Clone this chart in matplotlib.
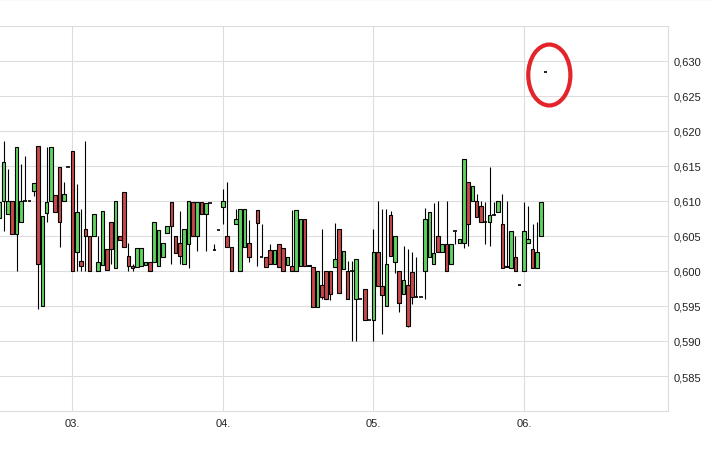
import matplotlib
matplotlib.use("Agg")
import matplotlib.pyplot as plt
from matplotlib.patches import Ellipse
from matplotlib.lines import Line2D
from matplotlib.ticker import FuncFormatter

# ---- data (15-min style slots, one list per field) ----
slot = [0,1,2,3,4,5,6,7,8,9,10,11,12,13,14,15,16,17,18,19,20,21,22,23,24,25,26,27,28,29,
        30,31,32,33,34,35,36,37,38,39,40,41,42,43,44,45,46,47,48,49,50,51,52,53,54,55,56,57,58,
        60,61,62,63,64,65,66,67,68,69,70,71,72,73,74,75,76,77,78,79,80,81,82,83,84,85,86,87,88,89,
        90,91,92,93,94,95,96,97,98,99,100,101,102,103,104,105,106,107,108,109,110,111,112,113,114,
        115,116,117,118,119,120,121,122,123,124,125,126,127]
open_ = [0.6076,0.6100,0.6081,0.6100,0.6053,0.6070,0.6100,0.6100,0.6114,0.6179,0.5950,0.6083,0.6100,0.6109,0.6149,
         0.6100,0.6149,0.6171,0.6027,0.6014,0.6060,0.6050,0.6050,0.6000,0.6009,0.6031,0.6070,0.6004,0.6050,0.6113,
         0.6021,0.6007,0.6006,0.6007,0.6009,0.6013,0.6013,0.6007,0.6020,0.6054,0.6099,0.6050,0.6040,0.6010,0.6039,
         0.6099,0.6050,0.6099,0.6081,0.6097,0.6030,0.6059,0.6091,0.6050,0.6034,0.6067,0.6000,0.6034,0.6040,
         0.6087,0.6020,0.6020,0.6030,0.6010,0.6039,0.6033,0.6009,0.6007,0.6000,0.6007,0.6074,0.6009,0.6006,0.5949,
         0.5980,0.6000,0.6000,0.6006,0.6060,0.6003,0.6000,0.6000,0.5960,0.5960,0.5974,0.5930,0.5930,0.6027,0.5979,
         0.5950,0.6080,0.6013,0.6000,0.5967,0.5980,0.5999,0.5963,0.5963,0.6000,0.6020,0.6010,0.6050,0.6027,0.6039,
         0.6010,0.6057,0.6040,0.6040,0.6127,0.6100,0.6100,0.6093,0.6070,0.6070,0.6080,0.6084,0.6067,0.6007,0.6004,
         0.6020,0.5980,0.6000,0.6040,0.6031,0.6004,0.6050,0.6285]
high = [0.6099,0.6186,0.6146,0.6100,0.6177,0.6153,0.6164,0.6100,0.6126,0.6179,0.6079,0.6177,0.6177,0.6109,0.6149,
        0.6127,0.6149,0.6171,0.6124,0.6089,0.6186,0.6050,0.6081,0.6050,0.6086,0.6031,0.6070,0.6100,0.6050,0.6113,
        0.6040,0.6010,0.6033,0.6033,0.6013,0.6013,0.6070,0.6059,0.6040,0.6064,0.6099,0.6050,0.6086,0.6060,0.6100,
        0.6099,0.6099,0.6099,0.6097,0.6097,0.6039,0.6059,0.6117,0.6127,0.6034,0.6089,0.6089,0.6089,0.6073,
        0.6087,0.6067,0.6020,0.6039,0.6030,0.6039,0.6033,0.6020,0.6087,0.6087,0.6074,0.6074,0.6009,0.6006,0.6000,
        0.6060,0.6000,0.6000,0.6069,0.6060,0.6029,0.6014,0.6014,0.6017,0.5960,0.5974,0.5930,0.6060,0.6100,0.6089,
        0.6089,0.6086,0.6050,0.6000,0.6036,0.6031,0.6027,0.6020,0.5963,0.6090,0.6084,0.6097,0.6100,0.6039,0.6100,
        0.6039,0.6057,0.6046,0.6160,0.6127,0.6121,0.6110,0.6100,0.6099,0.6149,0.6099,0.6100,0.6110,0.6100,0.6057,
        0.6050,0.5980,0.6099,0.6093,0.6067,0.6070,0.6099,0.6285]
low = [0.6076,0.6057,0.6081,0.6053,0.6000,0.6070,0.6100,0.6100,0.6107,0.5946,0.5950,0.6070,0.6100,0.6084,0.6034,
       0.6100,0.6149,0.6000,0.6000,0.6000,0.6000,0.6000,0.6050,0.6000,0.6009,0.6001,0.6010,0.6004,0.6044,0.6034,
       0.6000,0.6000,0.6006,0.6007,0.6009,0.6000,0.6013,0.6007,0.6020,0.6054,0.6010,0.6026,0.6010,0.6010,0.6004,
       0.6050,0.6029,0.6081,0.6029,0.6097,0.6030,0.6059,0.6067,0.6034,0.6000,0.6067,0.6000,0.6034,0.6013,
       0.6007,0.6020,0.6006,0.6010,0.6010,0.6006,0.6000,0.6009,0.6000,0.6000,0.6007,0.6007,0.6007,0.5949,0.5949,
       0.5960,0.5960,0.5959,0.6006,0.5969,0.6003,0.5960,0.5900,0.5900,0.5960,0.5930,0.5930,0.5900,0.5979,0.5910,
       0.5950,0.6021,0.5997,0.5941,0.5967,0.5920,0.5953,0.5963,0.5963,0.5960,0.6020,0.6010,0.6027,0.6027,0.6000,
       0.6010,0.6039,0.6040,0.6033,0.6036,0.6100,0.6077,0.6070,0.6039,0.6036,0.6080,0.6084,0.6004,0.6006,0.6004,
       0.6000,0.5980,0.6000,0.6040,0.6004,0.6004,0.6050,0.6285]
close = [0.6099,0.6156,0.6100,0.6053,0.6177,0.6100,0.6100,0.6100,0.6126,0.6010,0.6079,0.6099,0.6177,0.6084,0.6070,
         0.6110,0.6149,0.6000,0.6084,0.6007,0.6050,0.6000,0.6081,0.6013,0.6086,0.6001,0.6031,0.6100,0.6044,0.6034,
         0.6007,0.6004,0.6033,0.6033,0.6013,0.6000,0.6070,0.6059,0.6040,0.6064,0.6064,0.6026,0.6021,0.6060,0.6100,
         0.6050,0.6099,0.6081,0.6097,0.6097,0.6030,0.6059,0.6100,0.6034,0.6000,0.6074,0.6089,0.6089,0.6020,
         0.6069,0.6020,0.6006,0.6010,0.6030,0.6006,0.6000,0.6020,0.6000,0.6087,0.6074,0.6007,0.6007,0.5949,0.6000,
         0.5963,0.5960,0.5967,0.6017,0.5969,0.6029,0.5960,0.6000,0.6017,0.5960,0.5930,0.5930,0.6027,0.5979,0.5966,
         0.6010,0.6021,0.6050,0.5954,0.5987,0.5921,0.5963,0.5963,0.5963,0.6074,0.6084,0.6026,0.6027,0.6039,0.6000,
         0.6039,0.6057,0.6046,0.6160,0.6067,0.6121,0.6077,0.6070,0.6070,0.6080,0.6080,0.6100,0.6004,0.6006,0.6057,
         0.6000,0.5980,0.6057,0.6046,0.6004,0.6027,0.6099,0.6285]

day_slots = [17, 52, 87, 122]
day_labels = ["03.", "04.", "05.", "06."]
y_ticks = [0.585, 0.590, 0.595, 0.600, 0.605, 0.610, 0.615, 0.620, 0.625, 0.630]

UP = "#5fd35f"
DOWN = "#c9494a"
GRID = "#dddddd"

plt.rcParams["font.family"] = ["Liberation Sans", "DejaVu Sans"]

fig = plt.figure(figsize=(7.14, 4.52), dpi=100)
fig.patch.set_facecolor("white")
ax = fig.add_axes([-0.003, 40/452, 668/714 + 0.003, (412-27)/452])

ax.set_xlim(-0.35, 155.5)
ax.set_ylim(0.580, 0.635)

# grid
for v in y_ticks:
    ax.axhline(v, color=GRID, lw=0.8, zorder=0)
for d in day_slots:
    ax.axvline(d, color=GRID, lw=0.8, zorder=0)

bw = 0.82
for k, o, h, l, c in zip(slot, open_, high, low, close):
    lo = min(l, o, c)
    hi = max(h, o, c)
    if hi > lo:
        ax.vlines(k, lo, hi, color="black", lw=0.8, zorder=2)
    if c == o:
        ax.hlines(c, k - bw/2, k + bw/2, color="black", lw=1.2, zorder=3)
    else:
        col = UP if c > o else DOWN
        ax.bar(k, abs(c - o), bottom=min(o, c), width=bw, color=col,
               edgecolor="black", linewidth=0.8, zorder=3)

# highlight ellipse around the last quote
ax.add_patch(Ellipse((slot[-1] + 0.9, close[-1] - 0.0005), 9.8, 0.0087,
                     fill=False, edgecolor="#e3242b", lw=3.0, zorder=4))

ax.yaxis.tick_right()
ax.set_yticks(y_ticks)
ax.yaxis.set_major_formatter(FuncFormatter(lambda v, p: f"{v:.3f}".replace(".", ",")))
ax.set_xticks(day_slots)
ax.set_xticklabels(day_labels)
ax.tick_params(axis="both", length=0, labelsize=8, colors="#222222")
ax.tick_params(axis="y", pad=4)
ax.tick_params(axis="x", pad=5)

for s in ["top", "right", "bottom"]:
    ax.spines[s].set_color(GRID)
    ax.spines[s].set_linewidth(0.8)
ax.spines["left"].set_visible(False)

fig.add_artist(Line2D([0, 1], [0.999, 0.999], transform=fig.transFigure, color="#e6e6e6", lw=1.0))

fig.savefig("out.png", dpi=100, facecolor="white")
